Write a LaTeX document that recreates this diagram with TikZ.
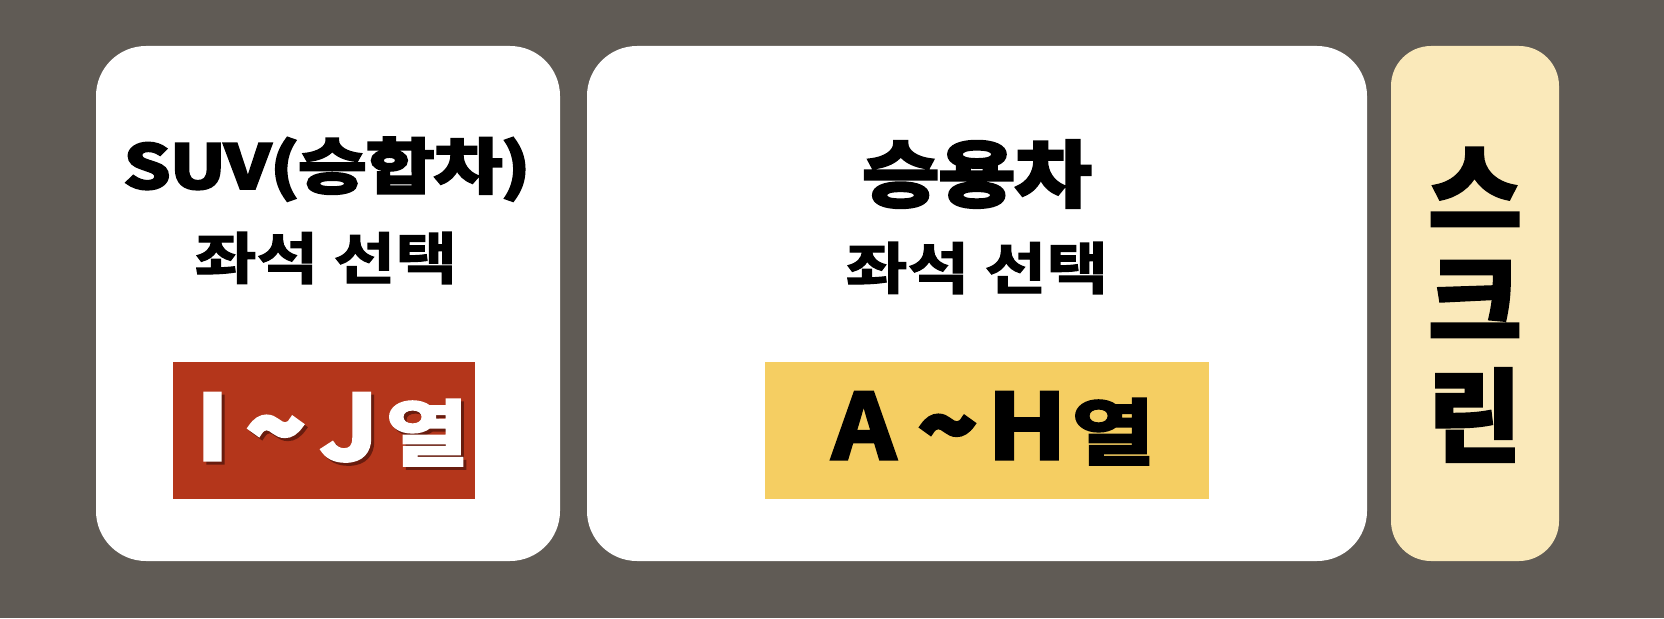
\documentclass[tikz,border=0pt]{standalone}
\usepackage{fontspec}
\newfontfamily\kr{Noto Sans CJK KR Bold}[FakeBold=2]
\newfontfamily\krh{Noto Sans CJK KR Bold}[FakeBold=5]
\newfontfamily\krr{Noto Sans CJK KR Bold}[FakeBold=3.5]
\newfontfamily\krt{Noto Sans CJK KR Bold}[FakeBold=7]
\definecolor{bg}{RGB}{96,91,85}
\definecolor{redbox}{RGB}{180,54,27}
\definecolor{yelbox}{RGB}{245,206,98}
\definecolor{scrbox}{RGB}{250,233,186}
\definecolor{shadowred}{RGB}{105,28,14}
\newcommand{\tl}{{\krt\symbol{"7E}}}
\newcommand{\lat}[2]{\scalebox{#1}[1]{\fontsize{90}{90}\selectfont #2}}
\newcommand{\yeol}{\scalebox{1.25}[1]{\fontsize{72}{72}\selectfont 열}}
\tikzset{
  panel/.style={fill=white, rounded corners=50pt, draw=none},
  tag/.style={draw=none, inner sep=0pt},
  title/.style={font=\krh\fontsize{60}{62}\selectfont, inner sep=0pt},
  sub/.style={font=\kr\fontsize{56}{60}\selectfont, inner sep=0pt},
  rowtxt/.style={font=\krr\fontsize{90}{90}\selectfont, inner sep=0pt, anchor=base west},
  scrtxt/.style={font=\krh\fontsize{100}{100}\selectfont, inner sep=0pt},
}
\begin{document}
\begin{tikzpicture}[x=1pt,y=-1pt]
\fill[bg] (0,0) rectangle (1664,618);
\useasboundingbox (0,0) rectangle (1664,618);
% panels
\node[panel, minimum width=464pt, minimum height=515pt] (suv) at (328,303.5) {};
\node[panel, minimum width=780pt, minimum height=515pt] (car) at (977,303.5) {};
\node[fill=scrbox, rounded corners=40pt, minimum width=168pt, minimum height=515pt] (scr) at (1475,303.5) {};
% row tags
\node[fill=redbox, tag, minimum width=302pt, minimum height=137pt] (ij) at (324,430.5) {};
\node[fill=yelbox, tag, minimum width=444pt, minimum height=137pt] (ah) at (987,430.5) {};
% texts
\node[title] (suvt) at (327,169) {\scalebox{1.23}[1]{SUV(승합차)}};
\node[sub] (suvs) at (326,258) {\scalebox{1.2}[1]{좌석 선택}};
\node[title, font=\krh\fontsize{72}{74}\selectfont] (cart) at (977,174) {\scalebox{1.15}[1]{승용차}};
\node[sub] (cars) at (977,268) {\scalebox{1.2}[1]{좌석 선택}};
\node[rowtxt, text=shadowred] (ijs) at (199,463) {\lat{1.1}{I}\hspace{19pt}\lat{1.05}{\tl}\hspace{16pt}\lat{1.15}{J}\hspace{7.5pt}\yeol};
\node[rowtxt, text=white] (ijt) at (196,460) {\lat{1.1}{I}\hspace{19pt}\lat{1.05}{\tl}\hspace{16pt}\lat{1.15}{J}\hspace{7.5pt}\yeol};
\node[rowtxt, text=black] (aht) at (832,459) {\lat{1.1}{A}\hspace{24pt}\lat{1.05}{\tl}\hspace{12pt}\lat{1.16}{H}\hspace{5.5pt}\yeol};
\node[scrtxt] (s1) at (1475,188) {스};
\node[scrtxt] (s2) at (1475,300) {크};
\node[scrtxt] (s3) at (1475,415) {린};
\end{tikzpicture}
\end{document}
